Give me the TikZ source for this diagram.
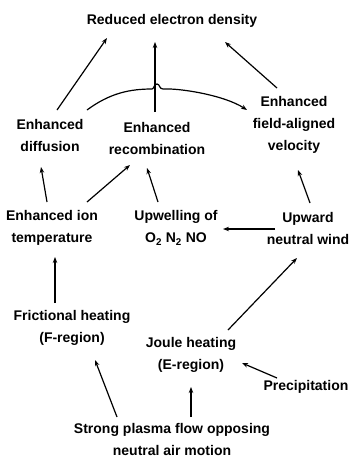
\documentclass[tikz,border=0pt]{standalone}
\usepackage{fontspec}
\setmainfont{Liberation Sans}
\usetikzlibrary{arrows.meta,calc}
\begin{document}
\begin{tikzpicture}[x=1pt,y=-1pt,
  txt/.style={font=\fontsize{14}{22}\selectfont\bfseries, align=center, inner sep=0pt},
  arr/.style={line width=1.2pt, -{Stealth[length=6pt,width=4.5pt]}}]
\useasboundingbox[fill=white] (0,0) rectangle (351,459);
\node[txt] (red) at (172,21) {Reduced electron density};
\node[txt] (diff) at (50,135) {Enhanced\\diffusion};
\node[txt] (rec) at (157,138) {Enhanced\\recombination};
\node[txt] (vel) at (294,125) {Enhanced\\field-aligned\\velocity};
\node[txt] (ion) at (52,228) {Enhanced ion\\temperature};
\node[txt] (upw) at (176,228) {Upwelling of\\O\textsubscript{2} N\textsubscript{2} NO};
\node[txt] (wind) at (308,228) {Upward\\neutral wind};
\node[txt] (fric) at (72,328) {Frictional heating\\(F-region)};
\node[txt] (joule) at (191,355) {Joule heating\\(E-region)};
\node[txt] (prec) at (306,387) {Precipitation};
\node[txt] (strong) at (172,439) {Strong plasma flow opposing\\neutral air motion};

\draw[arr] ($(diff)+(7,-25)$) -- ($(red)+(-65,17)$);
\draw[arr] ($(rec)+(-2,-26)$) -- ($(red)+(-17,21)$);
\draw[arr] ($(vel)+(-17,-37)$) -- ($(red)+(53,21)$);
\draw[arr] ($(diff)+(37,-25)$) .. controls ($(diff)+(60,-42)$) and ($(diff)+(80,-46)$) .. ($(diff)+(102,-46)$)
  .. controls ($(diff)+(104,-46)$) and ($(diff)+(104,-51)$) .. ($(diff)+(107,-51)$)
  .. controls ($(diff)+(110,-51)$) and ($(diff)+(109,-46)$) .. ($(diff)+(113,-46)$)
  .. controls ($(vel)+(-115,-37)$) and ($(vel)+(-70,-30)$) .. ($(vel)+(-47,-15)$);
\draw[arr] ($(ion)+(-5,-26)$) -- ($(diff)+(-9,32)$);
\draw[arr] ($(ion)+(35,-26)$) -- ($(rec)+(-27,27)$);
\draw[arr] ($(upw)+(-18,-26)$) -- ($(rec)+(-10,30)$);
\draw[arr] ($(wind)+(2,-25)$) -- ($(vel)+(4,45)$);
\draw[arr] ($(wind)+(-33,1)$) -- ($(upw)+(47,1)$);
\draw[arr] ($(fric)+(-17,-25)$) -- ($(ion)+(3,29)$);
\draw[arr] ($(joule)+(37,-25)$) -- ($(wind)+(-11,30)$);
\draw[arr] ($(prec)+(-29,-9)$) -- ($(joule)+(51,8)$);
\draw[arr] ($(strong)+(-55,-22)$) -- ($(fric)+(23,32)$);
\draw[arr] ($(strong)+(19,-22)$) -- ($(joule)+(0,32)$);
\end{tikzpicture}
\end{document}
